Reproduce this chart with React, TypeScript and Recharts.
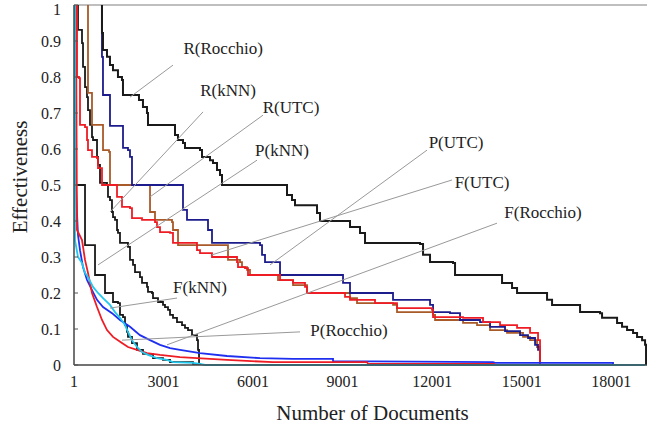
import React from 'react'
import {
  LineChart, Line, XAxis, YAxis, ReferenceLine, ReferenceDot, Label,
} from 'recharts'

// [document rank, effectiveness]
const rRocchio: [number, number][] = [
  [938, 1], [938, 0.922], [972, 0.875], [1106, 0.856], [1206, 0.833], [1307, 0.819],
  [1474, 0.8], [1608, 0.792], [1642, 0.778], [1642, 0.75], [2145, 0.75], [2178, 0.736],
  [2312, 0.717], [2446, 0.7], [2480, 0.667], [3318, 0.667], [3385, 0.639], [3485, 0.625],
  [3653, 0.617], [3720, 0.603], [4223, 0.597], [4290, 0.578], [4558, 0.569], [4658, 0.561],
  [4792, 0.542], [4893, 0.528], [4960, 0.5], [7138, 0.5], [7138, 0.472], [7305, 0.458],
  [7406, 0.444], [8144, 0.422], [8244, 0.4], [9149, 0.4], [9249, 0.383], [9584, 0.367],
  [9752, 0.339], [11595, 0.336], [11696, 0.306], [11930, 0.286], [12701, 0.283],
  [12768, 0.25], [14209, 0.25], [14343, 0.228], [14678, 0.214], [14846, 0.2],
  [15717, 0.2], [15851, 0.181], [16019, 0.167], [16856, 0.167], [16957, 0.147],
  [17627, 0.144], [17694, 0.131], [18197, 0.117], [18364, 0.106], [18532, 0.097],
  [18733, 0.089], [18867, 0.078], [19035, 0.069], [19135, 0.056], [19168, 0],
]

const pUTC: [number, number][] = [
  [938, 1], [938, 0.856], [972, 0.75], [1207, 0.75], [1207, 0.664], [1643, 0.664],
  [1643, 0.603], [1810, 0.597], [1877, 0.578], [1944, 0.5], [3653, 0.5], [3653, 0.431],
  [3787, 0.425], [3787, 0.403], [4458, 0.403], [4491, 0.375], [4625, 0.369], [4625, 0.339],
  [6234, 0.333], [6301, 0.306], [6401, 0.286], [6803, 0.286], [6904, 0.272], [6904, 0.25],
  [8981, 0.25], [9015, 0.228], [9249, 0.222], [9249, 0.2], [10657, 0.2], [10690, 0.181],
  [11930, 0.167], [12031, 0.147], [12600, 0.144], [12935, 0.125], [13605, 0.119],
  [13941, 0.106], [14443, 0.094], [14946, 0.083], [15214, 0.075], [15449, 0.056],
  [15549, 0.042], [15616, 0],
]

const rUTC: [number, number][] = [
  [470, 1], [470, 0.756], [604, 0.75], [604, 0.667], [973, 0.664], [973, 0.597],
  [1174, 0.592], [1207, 0.5], [2548, 0.5], [2548, 0.425], [2715, 0.422], [2715, 0.403],
  [3285, 0.397], [3318, 0.375], [3486, 0.369], [3486, 0.333], [5128, 0.333], [5161, 0.292],
  [5563, 0.286], [5630, 0.272], [5798, 0.264], [5898, 0.25], [6837, 0.244], [6837, 0.236],
  [7340, 0.236], [7340, 0.222], [7809, 0.217], [7809, 0.2], [9149, 0.2], [9249, 0.186],
  [9484, 0.172], [10690, 0.167], [10824, 0.147], [12031, 0.139], [12098, 0.125],
  [13036, 0.117], [13505, 0.111], [13941, 0.097], [14510, 0.089], [15046, 0.078],
  [15281, 0.069], [15515, 0.05], [15616, 0],
]

const fUTC: [number, number][] = [
  [102, 1], [102, 0.8], [169, 0.797], [202, 0.667], [370, 0.661], [437, 0.625],
  [470, 0.597], [604, 0.578], [772, 0.575], [805, 0.547], [939, 0.542], [939, 0.5],
  [1375, 0.5], [1442, 0.467], [1609, 0.458], [1609, 0.439], [1877, 0.436], [1944, 0.408],
  [2280, 0.403], [2715, 0.397], [2782, 0.383], [2883, 0.369], [3218, 0.367], [3318, 0.353],
  [3318, 0.339], [4122, 0.333], [4122, 0.319], [4223, 0.311], [4558, 0.311], [4625, 0.3],
  [5463, 0.286], [5496, 0.272], [5731, 0.269], [5831, 0.25], [6837, 0.25], [6904, 0.236],
  [7340, 0.228], [7741, 0.217], [7809, 0.2], [9015, 0.2], [9082, 0.189], [9249, 0.181],
  [10087, 0.172], [10690, 0.172], [10824, 0.158], [11997, 0.153], [12031, 0.133],
  [12600, 0.133], [13036, 0.131], [13706, 0.119], [14276, 0.111], [14846, 0.103],
  [15281, 0.089], [15549, 0.069], [15616, 0],
]

const rKNN: [number, number][] = [
  [135, 1], [135, 0.931], [269, 0.894], [303, 0.828], [370, 0.772], [437, 0.744],
  [470, 0.708], [537, 0.667], [604, 0.633], [638, 0.625], [772, 0.578], [805, 0.556],
  [872, 0.506], [1107, 0.5], [1140, 0.467], [1207, 0.458], [1274, 0.425], [1308, 0.411],
  [1375, 0.403], [1442, 0.375], [1475, 0.367], [1542, 0.339], [1810, 0.328], [1877, 0.292],
  [1978, 0.278], [2045, 0.258], [2212, 0.244], [2280, 0.228], [2447, 0.217], [2480, 0.203],
  [2615, 0.2], [2648, 0.186], [2816, 0.175], [2983, 0.167], [3050, 0.161], [3151, 0.153],
  [3218, 0.139], [3318, 0.131], [3452, 0.119], [3620, 0.111], [3720, 0.103], [3821, 0.097],
  [3955, 0.083], [4122, 0.069], [4156, 0.042], [4190, 0],
]

const pKNN: [number, number][] = [
  [1, 1], [1, 0.5], [370, 0.5], [370, 0.333], [705, 0.333], [705, 0.25], [973, 0.25],
  [1040, 0.2], [1274, 0.2], [1308, 0.175], [1475, 0.172], [1542, 0.139], [1643, 0.133],
  [1710, 0.111], [1777, 0.092], [1810, 0.078], [1944, 0.061], [2112, 0.042], [2313, 0.031],
  [2648, 0.019], [2983, 0.014], [3218, 0.008], [3988, 0.003], [4223, 0],
]

const pRocchio: [number, number][] = [
  [34, 1], [68, 0.494], [101, 0.422], [135, 0.361], [202, 0.319], [303, 0.272],
  [437, 0.236], [604, 0.208], [772, 0.181], [973, 0.161], [1274, 0.144], [1542, 0.125],
  [1877, 0.106], [2212, 0.083], [2548, 0.069], [2883, 0.056], [3218, 0.047], [3553, 0.042],
  [4223, 0.033], [5128, 0.025], [6234, 0.019], [7340, 0.017], [8680, 0.017], [8680, 0.011],
  [14041, 0.008], [14108, 0.006], [18062, 0.006], [18062, 0],
]

const fRocchio: [number, number][] = [
  [68, 1], [101, 0.375], [269, 0.347], [370, 0.292], [470, 0.256], [604, 0.2],
  [772, 0.161], [939, 0.125], [1107, 0.097], [1308, 0.078], [1609, 0.061], [1810, 0.05],
  [2112, 0.042], [2447, 0.033], [2883, 0.028], [3553, 0.022], [5128, 0.014], [6669, 0.008],
  [9819, 0.008], [9853, 0.003], [14075, 0.003], [14075, 0],
]

const fKNN: [number, number][] = [
  [34, 1], [34, 0.347], [135, 0.3], [269, 0.283], [370, 0.256], [470, 0.244], [638, 0.217],
  [805, 0.2], [973, 0.186], [1207, 0.167], [1375, 0.147], [1542, 0.131], [1710, 0.111],
  [1810, 0.092], [1944, 0.069], [2112, 0.05], [2280, 0.036], [2480, 0.028], [2782, 0.019],
  [3118, 0.014], [3318, 0.008], [3988, 0.006], [4223, 0.003], [4390, 0], [19135, 0],
]

const xTicks = [1, 3001, 6001, 9001, 12001, 15001, 18001]
const yTicks = [0, 0.1, 0.2, 0.3, 0.4, 0.5, 0.6, 0.7, 0.8, 0.9, 1]

// annotation text and pointer (x = documents, y = effectiveness)
const notes = [
  { text: 'R(Rocchio)', x: 5000, y: 0.881, from: [3318, 0.833], to: [1877, 0.744] },
  { text: 'R(kNN)', x: 5161, y: 0.764, from: [4324, 0.703], to: [1207, 0.425] },
  { text: 'R(UTC)', x: 7272, y: 0.717, from: [6334, 0.694], to: [2548, 0.467] },
  { text: 'P(kNN)', x: 6971, y: 0.597, from: [6133, 0.569], to: [805, 0.278] },
  { text: 'P(UTC)', x: 12802, y: 0.619, from: [11830, 0.597], to: [6569, 0.278] },
  { text: 'F(UTC)', x: 13673, y: 0.508, from: [12668, 0.514], to: [4625, 0.306] },
  { text: 'F(Rocchio)', x: 15717, y: 0.425, from: [14175, 0.394], to: [3117, 0.056] },
  { text: 'F(kNN)', x: 4223, y: 0.217, from: [3452, 0.186], to: [1207, 0.158] },
  { text: 'P(Rocchio)', x: 9216, y: 0.097, from: [7574, 0.092], to: [1609, 0.069] },
]

const series = [
  { name: 'R(kNN)', pts: rKNN, color: '#1a1a1a', w: 1.8, step: true },
  { name: 'P(kNN)', pts: pKNN, color: '#1a1a1a', w: 1.8, step: true },
  { name: 'R(UTC)', pts: rUTC, color: '#a85a28', w: 1.8, step: true },
  { name: 'P(UTC)', pts: pUTC, color: '#1c1c8c', w: 1.8, step: true },
  { name: 'F(UTC)', pts: fUTC, color: '#ee1c24', w: 1.8, step: true },
  { name: 'P(Rocchio)', pts: pRocchio, color: '#1f2ff0', w: 1.8, step: false },
  { name: 'F(Rocchio)', pts: fRocchio, color: '#ee1c24', w: 1.8, step: false },
  { name: 'F(kNN)', pts: fKNN, color: '#22c8ee', w: 1.8, step: false },
  { name: 'R(Rocchio)', pts: rRocchio, color: '#1a1a1a', w: 2, step: true },
]

const FONT = '"Liberation Serif", serif'

const YTitle = (props: any) => {
  const vb = props.viewBox
  const cx = vb.x + 20
  const cy = vb.y + vb.height / 2 - 8
  return (
    <text x={cx} y={cy} transform={`rotate(-90, ${cx}, ${cy})`} textAnchor="middle"
      dominantBaseline="central" fontFamily={FONT} fontSize={21} fill="#222">
      Effectiveness
    </text>
  )
}

export default function App() {
  return (
    <div style={{ width: 647, height: 426, background: '#fff' }}>
      <style>{'body{margin:0}'}</style>
      <LineChart width={647} height={426} margin={{ top: 5, right: 0, bottom: 0, left: 0 }}>
        <XAxis
          dataKey="d" type="number" domain={[1, 19200]} ticks={xTicks}
          allowDataOverflow height={61} tickLine={false}
          axisLine={{ stroke: '#444', strokeWidth: 1.5 }}
          tick={{ fill: '#222', fontSize: 16, fontFamily: FONT }} tickMargin={5}
        >
          <Label value="Number of Documents" position="insideBottom" dx={12} offset={6}
            fill="#222" fontSize={21} fontFamily={FONT} />
        </XAxis>
        <YAxis
          type="number" domain={[0, 1]} ticks={yTicks} width={74}
          tickSize={-4} tickMargin={17} tickLine={{ stroke: '#555' }}
          axisLine={{ stroke: '#444', strokeWidth: 1.5 }}
          tick={{ fill: '#222', fontSize: 16, fontFamily: FONT }}
        >
          <Label content={YTitle} />
        </YAxis>
        <ReferenceLine y={1} stroke="#aaa" strokeWidth={1.5} />
        {series.map((s) => (
          <Line
            key={s.name}
            data={s.pts.map(([d, v]) => ({ d, v }))}
            dataKey="v"
            type={s.step ? 'stepAfter' : 'linear'}
            stroke={s.color}
            strokeWidth={s.w}
            dot={false}
            activeDot={false}
            isAnimationActive={false}
          />
        ))}
        {notes.map((n) => (
          <ReferenceLine
            key={n.text + '-ptr'}
            segment={[{ x: n.from[0], y: n.from[1] }, { x: n.to[0], y: n.to[1] }]}
            stroke="#999"
            strokeWidth={1}
          />
        ))}
        {notes.map((n) => (
          <ReferenceDot
            key={n.text}
            x={n.x}
            y={n.y}
            r={0}
            fill="none"
            stroke="none"
            label={{ value: n.text, position: 'center', fill: '#222', fontSize: 17, fontFamily: FONT }}
          />
        ))}
      </LineChart>
    </div>
  )
}
